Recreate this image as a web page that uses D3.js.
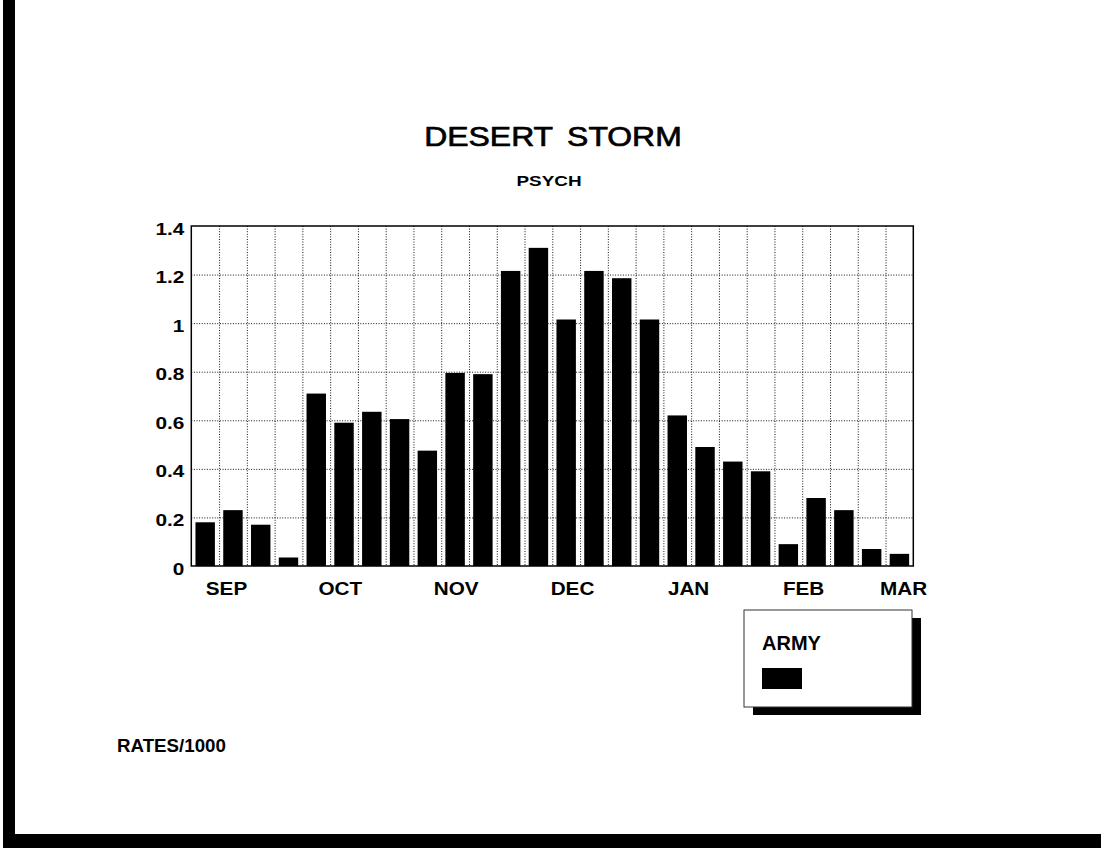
<!DOCTYPE html>
<html>
<head>
<meta charset="utf-8">
<script src="https://cdn.jsdelivr.net/npm/d3@7"></script>
<style>
  html, body { margin: 0; padding: 0; background: #fff; }
  svg { display: block; font-family: "Liberation Sans", Arial, sans-serif; }
</style>
</head>
<body>
<svg id="chart" width="1107" height="850"></svg>
<script>
// ---- data ----
const title = "DESERT STORM";
const subtitle = "PSYCH";
const footnote = "RATES/1000";
const seriesName = "ARMY";
const weeks = [1,2,3,4,5,6,7,8,9,10,11,12,13,14,15,16,17,18,19,20,21,22,23,24,25,26];
const army = [0.18, 0.23, 0.17, 0.035, 0.71, 0.59, 0.635, 0.605, 0.475, 0.795, 0.79, 1.215, 1.31,
              1.015, 1.215, 1.185, 1.015, 0.62, 0.49, 0.43, 0.39, 0.09, 0.28, 0.23, 0.07, 0.05];
const monthLabels = ["SEP", "OCT", "NOV", "DEC", "JAN", "FEB", "MAR"];
const monthAt = [1.25, 5.35, 9.52, 13.71, 17.89, 22.03, 25.63]; // position in week units
const yTicks = [0, 0.2, 0.4, 0.6, 0.8, 1, 1.2, 1.4];
const yTickLabels = ["0", "0.2", "0.4", "0.6", "0.8", "1", "1.2", "1.4"];

// ---- layout ----
const svg = d3.select("#chart");
const L = 191.3, R = 913.3, T = 226, B = 566;
const W = R - L, H = B - T;

svg.append("rect").attr("width", 1107).attr("height", 850).attr("fill", "#fff");
// scanned page edges
svg.append("rect").attr("x", 3).attr("y", 0).attr("width", 12).attr("height", 848).attr("fill", "#000");
svg.append("rect").attr("x", 3).attr("y", 834).attr("width", 1098).attr("height", 14).attr("fill", "#000");

function label(x, y, str, size, weight, anchor, sx) {
  return svg.append("text")
    .attr("transform", `translate(${x},${y}) scale(${sx},1)`)
    .attr("text-anchor", anchor)
    .attr("font-size", size)
    .attr("font-weight", weight)
    .attr("fill", "#000")
    .text(str);
}

label(553, 146, title, 28, "normal", "middle", 1.14)
  .attr("word-spacing", 5).attr("stroke", "#000").attr("stroke-width", 0.7);
label(549, 186, subtitle, 15.5, "bold", "middle", 1.22);
label(117, 752, footnote, 17.5, "bold", "start", 1.07);

const x = d3.scaleBand().domain(weeks).range([L, R]).paddingInner(0.3).paddingOuter(0.15);
const xw = d3.scaleLinear().domain([0, weeks.length]).range([L, R]);
const y = d3.scaleLinear().domain([0, 1.4]).range([B, T]);

const g = svg.append("g");

// horizontal gridlines
g.append("g")
  .attr("transform", `translate(${L},0)`)
  .call(d3.axisLeft(y).tickValues(yTicks.slice(1, -1)).tickSize(-W).tickFormat(""))
  .call(s => s.select(".domain").remove())
  .call(s => s.selectAll(".tick line").attr("stroke", "#111").attr("stroke-width", 1).attr("stroke-dasharray", "1,1.6"));

// vertical gridlines at week boundaries
g.append("g")
  .attr("transform", `translate(0,${T})`)
  .call(d3.axisTop(xw).tickValues(d3.range(1, weeks.length)).tickSize(-H).tickFormat(""))
  .call(s => s.select(".domain").remove())
  .call(s => s.selectAll(".tick line").attr("stroke", "#111").attr("stroke-width", 1).attr("stroke-dasharray", "1,1.6"));

// bars
g.append("g").selectAll("rect").data(army).join("rect")
  .attr("x", (d, i) => x(weeks[i]))
  .attr("width", x.bandwidth())
  .attr("y", d => y(d))
  .attr("height", d => y(0) - y(d))
  .attr("fill", "#000");

// frame
g.append("rect").attr("x", L).attr("y", T).attr("width", W).attr("height", H)
  .attr("fill", "none").attr("stroke", "#000").attr("stroke-width", 1.5);

// y axis labels
const ysx = 1.3;
g.append("g")
  .attr("transform", `translate(${L},0)`)
  .call(d3.axisLeft(y).tickValues(yTicks).tickSize(0).tickFormat((d, i) => yTickLabels[i]))
  .call(s => s.select(".domain").remove())
  .call(s => s.selectAll(".tick text")
    .attr("x", -7 / ysx).attr("dy", 8)
    .attr("transform", `scale(${ysx},1)`)
    .attr("font-size", 16).attr("font-weight", "bold")
    .attr("font-family", "'Liberation Sans', Arial, sans-serif")
    .attr("fill", "#000"));

// month labels
g.append("g")
  .attr("transform", `translate(0,${B})`)
  .call(d3.axisBottom(xw).tickValues(monthAt).tickSize(0).tickFormat((d, i) => monthLabels[i]))
  .call(s => s.select(".domain").remove())
  .call(s => s.selectAll(".tick text")
    .attr("y", 0).attr("dy", 29)
    .attr("transform", "scale(1.15,1)")
    .attr("font-size", 18).attr("font-weight", "bold")
    .attr("font-family", "'Liberation Sans', Arial, sans-serif")
    .attr("fill", "#000"));

// legend
const lg = svg.append("g");
lg.append("rect").attr("x", 753).attr("y", 618).attr("width", 168).attr("height", 97).attr("fill", "#000");
lg.append("rect").attr("x", 744).attr("y", 610).attr("width", 168).attr("height", 97)
  .attr("fill", "#fff").attr("stroke", "#333").attr("stroke-width", 1);
lg.append("text").attr("x", 762).attr("y", 650).attr("font-size", 20).attr("font-weight", "bold").text(seriesName);
lg.append("rect").attr("x", 762).attr("y", 668).attr("width", 40).attr("height", 21).attr("fill", "#000");
</script>
</body>
</html>
